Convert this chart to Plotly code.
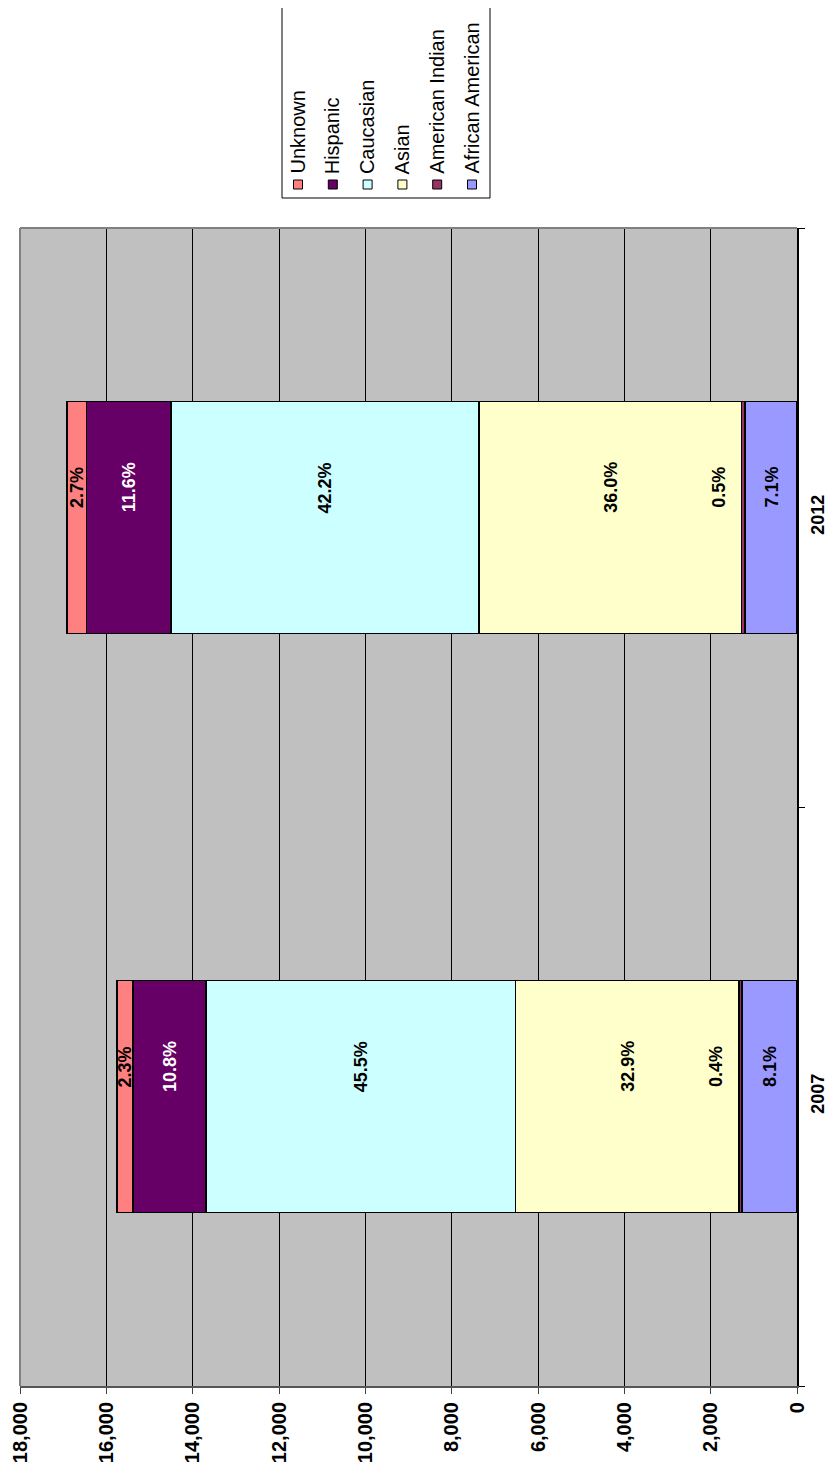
import plotly.graph_objects as go

# ---------------- data ----------------
years = ["2007", "2012"]
races = ["African American", "American Indian", "Asian", "Caucasian", "Hispanic", "Unknown"]
african_american = [1276, 1200]
american_indian = [63, 85]
asian = [5182, 6084]
caucasian = [7166, 7132]
hispanic = [1701, 1960]
unknown = [362, 456]

african_american_pct = ["8.1%", "7.1%"]
american_indian_pct = ["0.4%", "0.5%"]
asian_pct = ["32.9%", "36.0%"]
caucasian_pct = ["45.5%", "42.2%"]
hispanic_pct = ["10.8%", "11.6%"]
unknown_pct = ["2.3%", "2.7%"]

value_ticks = list(range(0, 18001, 2000))

series_values = [african_american, american_indian, asian, caucasian, hispanic, unknown]
series_pcts = [african_american_pct, american_indian_pct, asian_pct, caucasian_pct, hispanic_pct, unknown_pct]
colors = ["#9999FF", "#993366", "#FFFFCC", "#CCFFFF", "#660066", "#FF8080"]
label_colors = ["black", "black", "black", "black", "white", "black"]
label_shift = [0, -25, 0, 0, 0, 0]

FONT = "Arial, Liberation Sans, sans-serif"

# layout geometry (pixels); page body has an 8px margin on every side
OFF = 8
W, H = 835 - 2 * OFF, 1477 - 2 * OFF
L = 20 - OFF
R = (W + OFF) - 797
T = 228 - OFF
B = (H + OFF) - 1386
PW, PH = W - L - R, H - T - B


def px(x):  # page pixel -> paper
    return (x - OFF - L) / PW


def py(y):  # page pixel -> paper
    return (H - B - (y - OFF)) / PH


pos = list(range(len(years)))

fig = go.Figure()
for name, vals, col in zip(races, series_values, colors):
    fig.add_trace(go.Bar(
        y=pos, x=vals, orientation="h", name=name,
        marker=dict(color=col, line=dict(color="black", width=1.5)),
        showlegend=False, hoverinfo="x+name",
    ))

annotations = []
# data labels
cum = [0] * len(years)
for vals, pcts, lc, sh in zip(series_values, series_pcts, label_colors, label_shift):
    for i in pos:
        mid = cum[i] + vals[i] / 2
        annotations.append(dict(
            x=mid, y=i, xref="x", yref="y", text="<b>%s</b>" % pcts[i],
            showarrow=False, textangle=-90, xshift=sh, yshift=30,
            font=dict(family=FONT, size=18, color=lc),
        ))
        cum[i] += vals[i]

# custom rotated legend
shapes = []
legend_order = ["Unknown", "Hispanic", "Caucasian", "Asian", "American Indian", "African American"]
legend_colors = [colors[races.index(n)] for n in legend_order]
box_x0, box_x1, box_y0, box_y1 = 282, 490, 2, 198
shapes.append(dict(type="rect", xref="paper", yref="paper",
                   x0=px(box_x0), x1=px(box_x1), y0=py(box_y1), y1=py(box_y0),
                   line=dict(color="black", width=1), fillcolor="white", layer="above"))
for k, (n, c) in enumerate(zip(legend_order, legend_colors)):
    cx = 298 + k * 34.8
    shapes.append(dict(type="rect", xref="paper", yref="paper",
                       x0=px(cx - 4.5), x1=px(cx + 4.5), y0=py(189), y1=py(180),
                       line=dict(color="black", width=1), fillcolor=c, layer="above"))
    annotations.append(dict(
        x=px(cx), y=py(176), xref="paper", yref="paper", text=n,
        showarrow=False, textangle=-90, xanchor="center", yanchor="bottom",
        font=dict(family=FONT, size=20, color="black"),
    ))

# plot borders (top / left)
shapes.append(dict(type="line", xref="paper", yref="paper", x0=0, x1=1, y0=1, y1=1,
                   line=dict(color="#808080", width=2), layer="above"))
shapes.append(dict(type="line", xref="paper", yref="paper", x0=0, x1=0, y0=0, y1=1,
                   line=dict(color="#808080", width=2), layer="above"))

fig.update_layout(
    width=W, height=H,
    margin=dict(l=L, r=R, t=T, b=B, pad=0, autoexpand=False),
    barmode="stack", bargap=0.6,
    plot_bgcolor="#C0C0C0", paper_bgcolor="white",
    font=dict(family=FONT, color="black"),
    annotations=annotations, shapes=shapes,
    xaxis=dict(
        range=[18000, 0], tickvals=value_ticks, tickformat=",", automargin=False,
        tickangle=-90, ticks="outside", ticklen=6, tickcolor="#404040",
        showline=True, linecolor="#555555", linewidth=2,
        showgrid=True, gridcolor="black", gridwidth=1, zeroline=False,
        tickfont=dict(family=FONT, size=20, color="black", weight="bold"),
    ),
    yaxis=dict(
        side="right", type="linear", range=[-0.5, len(years) - 0.5], automargin=False,
        tickvals=pos, ticktext=years,
        tickangle=-90, ticks="", ticklabelstandoff=4,
        minor=dict(tickvals=[p - 0.5 for p in pos] + [pos[-1] + 0.5],
                   ticks="outside", ticklen=6, tickcolor="black", showgrid=False),
        showline=True, linecolor="black", linewidth=1.5, showgrid=False, zeroline=False,
        tickfont=dict(family=FONT, size=18, color="black", weight="bold"),
    ),
)

fig.write_html("out.html")
